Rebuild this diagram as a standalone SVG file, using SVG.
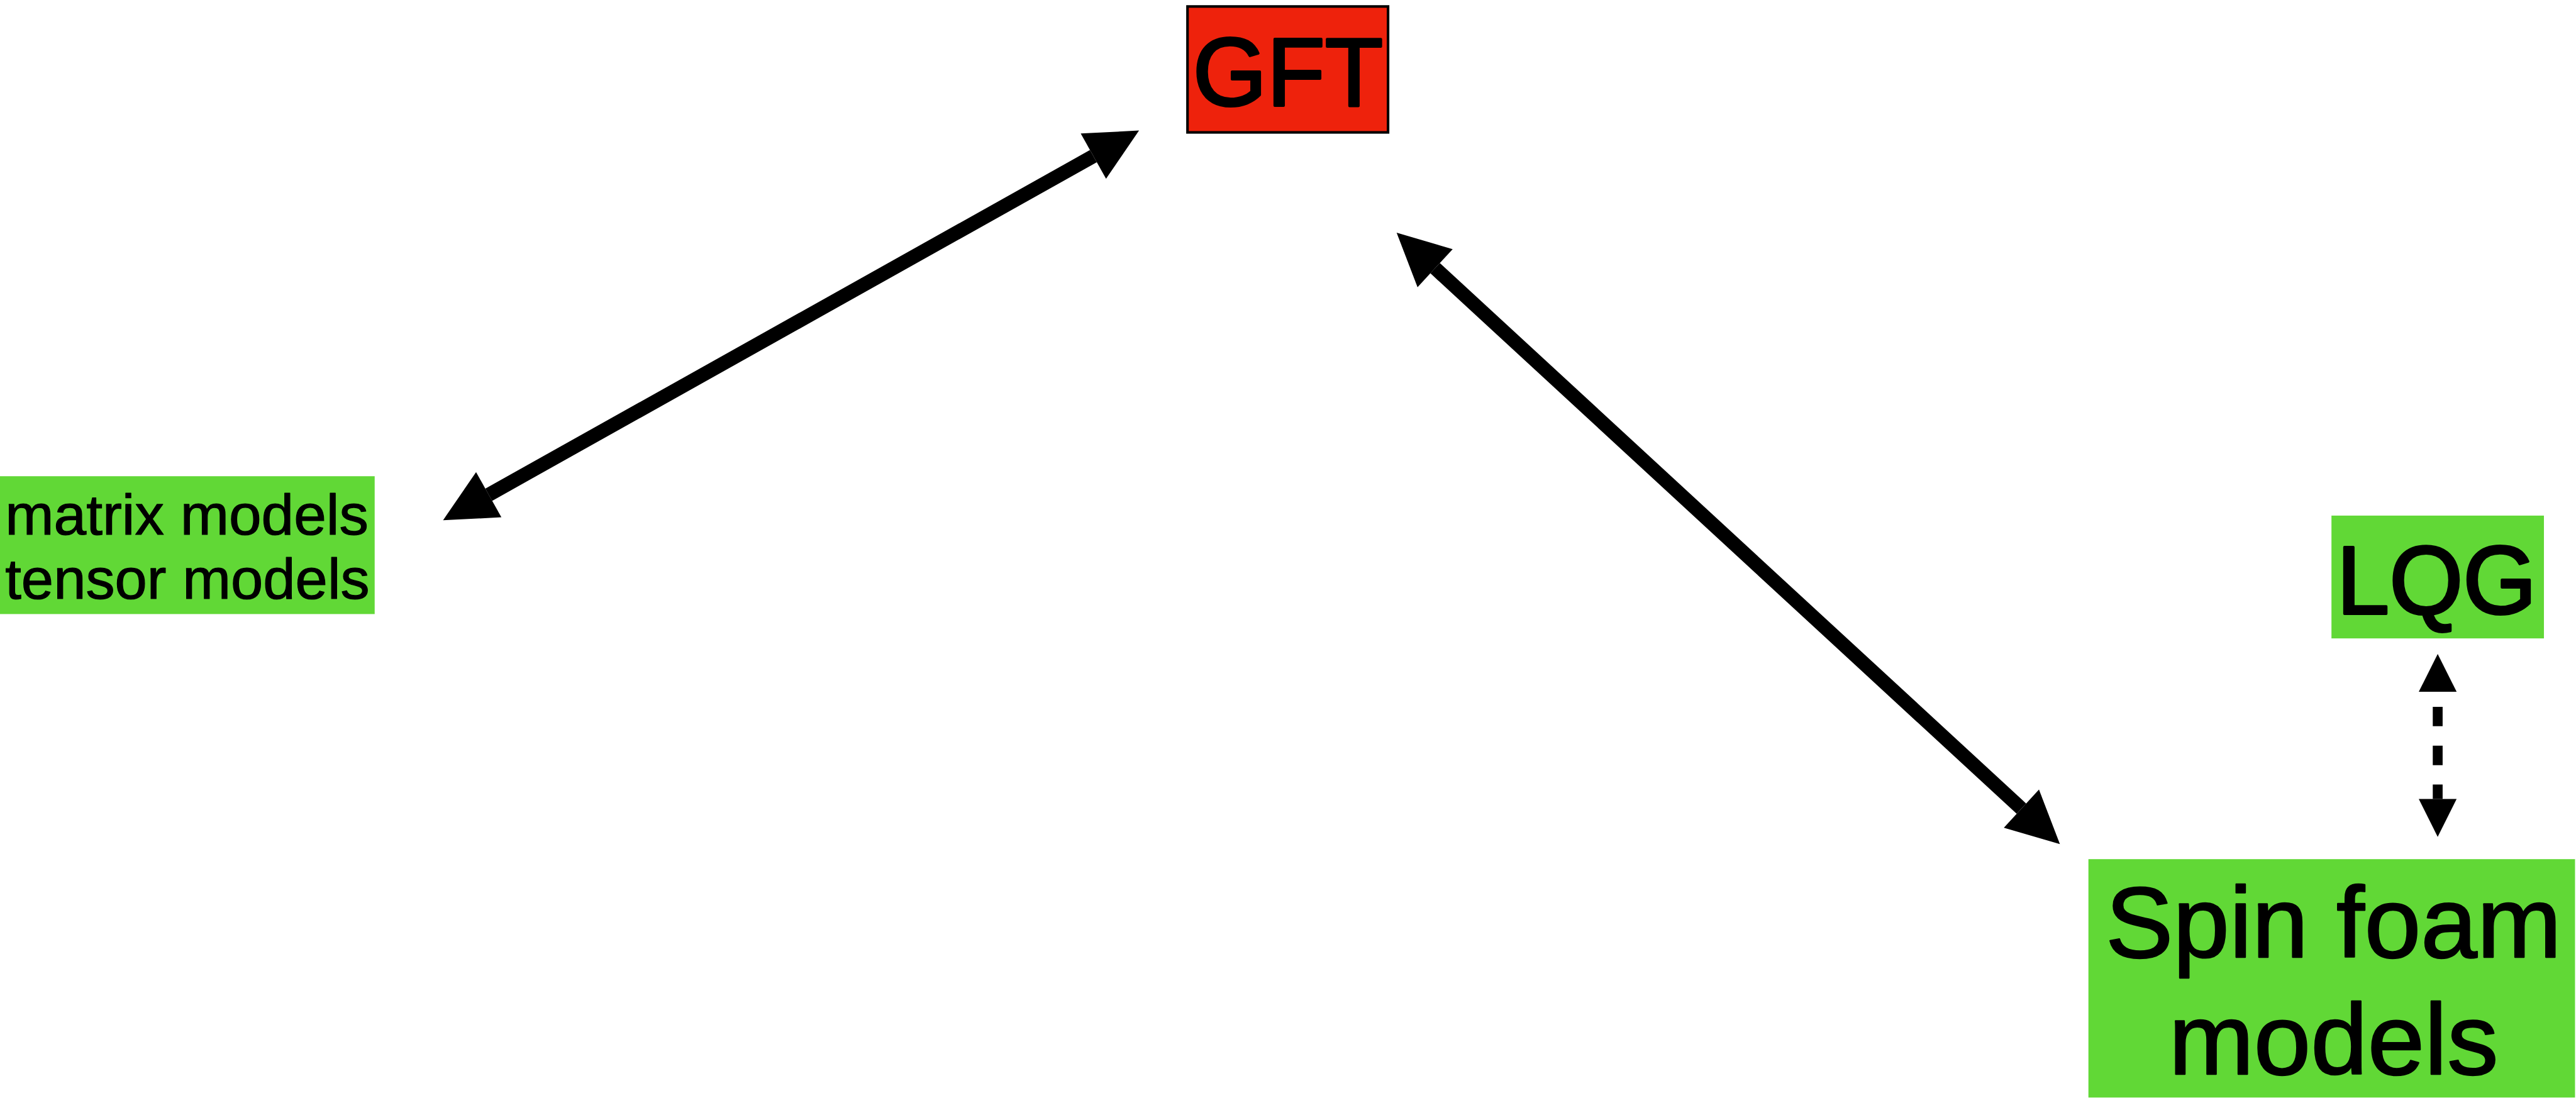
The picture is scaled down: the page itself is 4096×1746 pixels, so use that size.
<svg xmlns="http://www.w3.org/2000/svg" width="4096" height="1746" viewBox="0 0 4096 1746">
  <style>
    .green { fill: #61D836; }
    .label { font-family: "Liberation Sans", Arial, Helvetica, sans-serif; fill: #000000; stroke: #000000; stroke-linejoin: round; }
    .link { stroke: #000000; stroke-width: 27; fill: none; }
    .dash { stroke: #000000; stroke-width: 19; fill: none; stroke-dasharray: 37.5 37.5; stroke-dashoffset: 46; }
  </style>
  <defs>
    <marker id="head" markerUnits="userSpaceOnUse" markerWidth="101" markerHeight="100" refX="0" refY="50" orient="auto-start-reverse" overflow="visible">
      <path d="M0,0 L101,50 L0,100 Z" fill="#000000"/>
    </marker>
    <marker id="head-small" markerUnits="userSpaceOnUse" markerWidth="73" markerHeight="73" refX="0" refY="36.5" orient="auto-start-reverse" overflow="visible">
      <path d="M0,0 L73,36.5 L0,73 Z" fill="#000000"/>
    </marker>
  </defs>
  <rect width="4096" height="1746" fill="#FFFFFF"/>
  <!-- drawn in 4969-wide units, scaled to the canvas -->
  <g transform="scale(0.824)">
    <g id="connectors">
      <line class="link" x1="943.1" y1="954.7" x2="2109.9" y2="301.3" marker-start="url(#head)" marker-end="url(#head)"/>
      <line class="link" x1="2769.3" y1="517.5" x2="3900.7" y2="1560.5" marker-start="url(#head)" marker-end="url(#head)"/>
      <line class="dash" x1="4704" y1="1335" x2="4704" y2="1542" marker-start="url(#head-small)" marker-end="url(#head-small)"/>
    </g>
    <g id="gft">
      <rect x="2291.5" y="12.5" width="387" height="243" fill="#EE220C" stroke="#000000" stroke-width="5"/>
      <text class="label" x="2302" y="204" font-size="187" stroke-width="5" textLength="367" lengthAdjust="spacingAndGlyphs">GFT</text>
    </g>
    <g id="matrix-tensor">
      <rect class="green" x="0" y="919" width="723" height="266"/>
      <text class="label" x="10" y="1031" font-size="110" stroke-width="1.5" textLength="701" lengthAdjust="spacingAndGlyphs">matrix models</text>
      <text class="label" x="10" y="1155" font-size="110" stroke-width="1.5" textLength="703" lengthAdjust="spacingAndGlyphs">tensor models</text>
    </g>
    <g id="lqg">
      <rect class="green" x="4499" y="995" width="410" height="237"/>
      <text class="label" x="4509" y="1184" font-size="186" stroke-width="5" textLength="386" lengthAdjust="spacingAndGlyphs">LQG</text>
    </g>
    <g id="spin-foam">
      <rect class="green" x="4030" y="1658" width="939" height="460"/>
      <text class="label" x="4063" y="1847" font-size="193" stroke-width="3" textLength="880" lengthAdjust="spacingAndGlyphs">Spin foam</text>
      <text class="label" x="4185" y="2073" font-size="193" stroke-width="3" textLength="636" lengthAdjust="spacingAndGlyphs">models</text>
    </g>
  </g>
</svg>
